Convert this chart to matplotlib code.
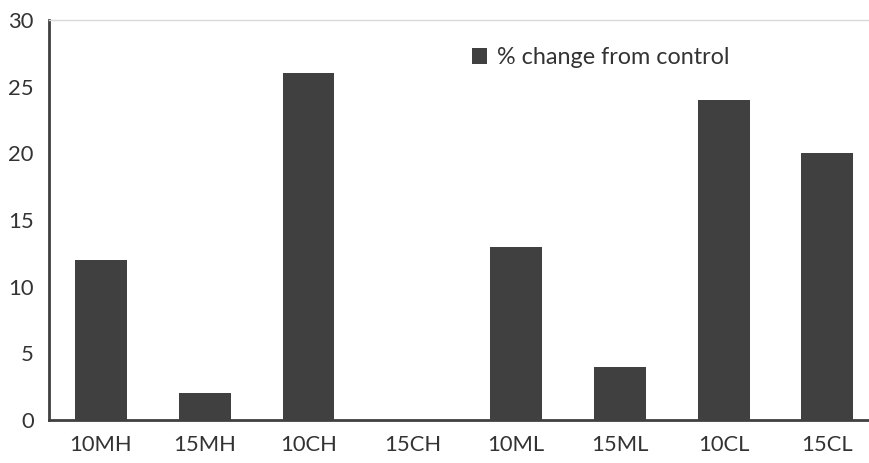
import matplotlib

matplotlib.use("Agg")
import matplotlib.pyplot as plt

# treatment groups and their % change from control
groups = ["10MH", "15MH", "10CH", "15CH", "10ML", "15ML", "10CL", "15CL"]
pct_change = [12, 2, 26, 0, 13, 4, 24, 20]
y_ticks = [0, 5, 10, 15, 20, 25, 30]

plt.rcParams["font.family"] = ["Lato", "DejaVu Sans"]
ink = "#404040"

fig = plt.figure(figsize=(8.7, 4.63), dpi=100)
ax = fig.add_axes([49 / 870, 43 / 463, 821 / 870, 400 / 463])

x = range(len(groups))
ax.bar(x, pct_change, width=0.5, color=ink, label="% change from control", zorder=2)

ax.set_xlim(-0.5, 7.41)
ax.set_ylim(0, 30)
ax.set_xticks(list(x))
ax.set_xticklabels(groups)
ax.set_yticks(y_ticks)
ax.tick_params(length=0, labelsize=15.8, colors="#333333")
ax.tick_params(axis="x", pad=11)
ax.tick_params(axis="y", pad=11)

ax.spines["left"].set_color(ink)
ax.spines["left"].set_linewidth(2)
ax.spines["bottom"].set_color(ink)
ax.spines["bottom"].set_linewidth(2)
ax.spines["top"].set_color("#d9d9d9")
ax.spines["top"].set_linewidth(1)
ax.spines["right"].set_visible(False)

ax.legend(
    loc="upper left", bbox_to_anchor=(0.49, 0.985), frameon=False,
    fontsize=16.8, handlelength=0.65, handleheight=0.65, handletextpad=0.4,
    labelcolor="#333333",
)

fig.savefig("out.png", dpi=100)
